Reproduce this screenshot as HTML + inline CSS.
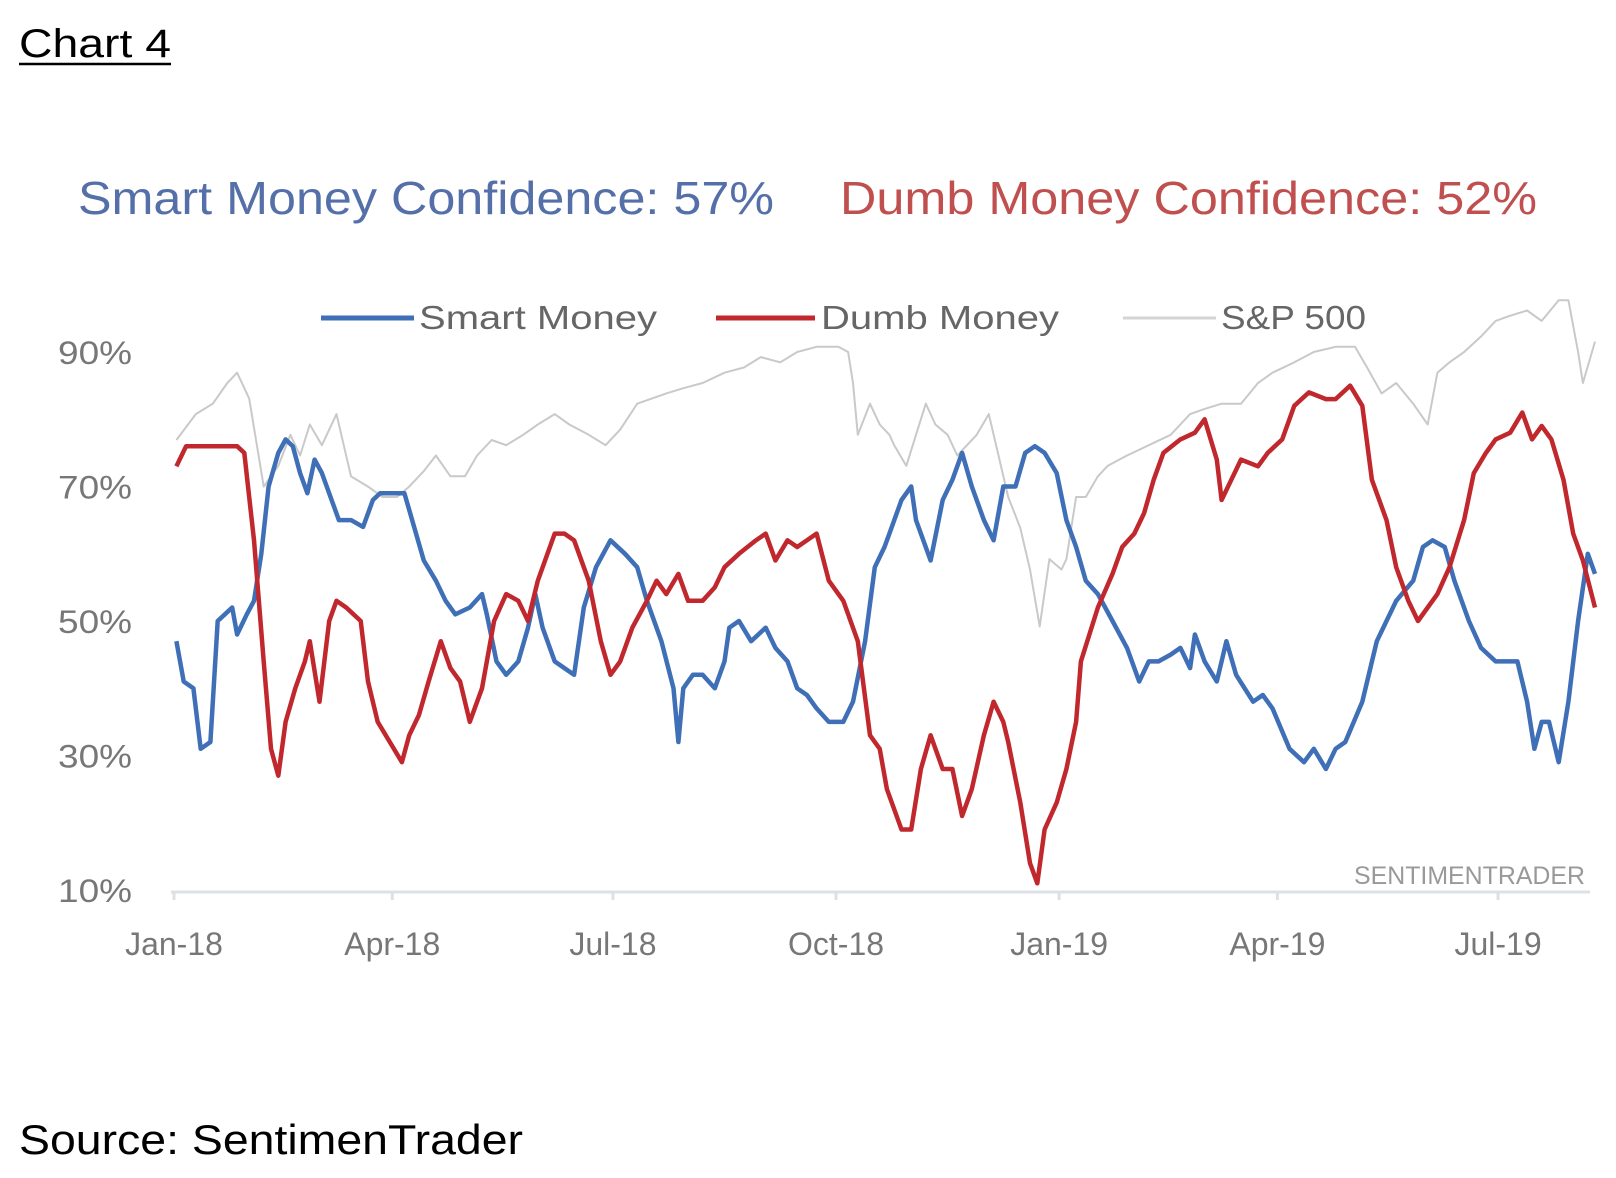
<!DOCTYPE html>
<html><head><meta charset="utf-8"><style>
html,body{margin:0;padding:0;background:#fff;}
svg{display:block;}
text{font-family:"Liberation Sans",sans-serif;}
</style></head><body>
<svg id="chart" width="1616" height="1178" viewBox="0 0 1616 1178">
  <text x="19" y="57" font-size="40" fill="#000" textLength="152" lengthAdjust="spacingAndGlyphs">Chart 4</text>
  <line x1="19" y1="64" x2="171" y2="64" stroke="#000" stroke-width="2.5"/>
  <text x="78" y="214" font-size="46" fill="#5570a9" textLength="696" lengthAdjust="spacingAndGlyphs">Smart Money Confidence: 57%</text>
  <text x="840" y="214" font-size="46" fill="#c0504f" textLength="697" lengthAdjust="spacingAndGlyphs">Dumb Money Confidence: 52%</text>
  <g>
    <line x1="321" y1="318" x2="414" y2="318" stroke="#3f6fb6" stroke-width="5"/>
    <text x="419" y="329" font-size="33" fill="#666" textLength="238" lengthAdjust="spacingAndGlyphs">Smart Money</text>
    <line x1="716" y1="318" x2="815" y2="318" stroke="#c0282d" stroke-width="5"/>
    <text x="821" y="329" font-size="33" fill="#666" textLength="238" lengthAdjust="spacingAndGlyphs">Dumb Money</text>
    <line x1="1123" y1="318" x2="1216" y2="318" stroke="#d4d4d4" stroke-width="3"/>
    <text x="1221" y="329" font-size="33" fill="#666" textLength="145" lengthAdjust="spacingAndGlyphs">S&amp;P 500</text>
  </g>
  <g id="yaxis"></g>
  <g id="xaxis"></g>
  <g id="series"></g>
  <text x="1585" y="884" font-size="25" fill="#999" text-anchor="end" textLength="231" lengthAdjust="spacingAndGlyphs">SENTIMENTRADER</text>
  <text x="19" y="1154" font-size="42" fill="#000" textLength="504" lengthAdjust="spacingAndGlyphs">Source: SentimenTrader</text>
</svg>
<script>
// days since 2018-01-01
const smartDays = [1,4,8,11,15,18,21,24,26,30,33,36,39,43,46,49,52,55,58,61,65,68,73,78,82,85,90,95,99,103,108,112,116,122,127,129,133,137,142,146,149,152,157,161,165,169,174,180,186,191,195,201,206,208,210,214,218,223,227,229,233,238,244,248,253,257,261,265,270,276,280,285,289,293,295,300,304,306,308,312,317,321,325,329,334,338,342,347,351,355,359,364,368,372,376,381,387,393,398,402,406,411,415,419,421,425,430,434,438,445,449,453,460,466,470,475,479,483,490,496,500,504,511,515,519,524,528,534,539,545,554,558,561,564,567,571,575,579,583,586];
const smartValues = [47,41,40,31,32,50,51,52,48,51,53,60,70,75,77,76,72,69,74,72,68,65,65,64,68,69,69,69,64,59,56,53,51,52,54,51,44,42,44,49,54,49,44,43,42,52,58,62,60,58,53,47,40,32,40,42,42,40,44,49,50,47,49,46,44,40,39,37,35,35,38,47,58,61,63,68,70,65,63,59,68,71,75,70,65,62,70,70,75,76,75,72,65,61,56,54,50,46,41,44,44,45,46,43,48,44,41,47,42,38,39,37,31,29,31,28,31,32,38,47,50,53,56,61,62,61,56,50,46,44,44,38,31,35,35,29,38,50,60,57];
const dumbDays = [1,5,9,14,18,22,26,29,33,37,40,43,46,50,54,56,60,64,67,71,77,80,84,89,94,97,101,105,110,114,118,122,127,132,137,142,146,150,157,161,165,171,176,180,184,189,195,199,203,208,212,218,223,227,233,240,244,248,253,257,261,265,270,276,282,287,291,294,300,304,308,312,317,321,325,329,334,338,342,344,349,353,356,359,364,368,372,374,381,387,391,396,400,404,408,415,421,425,430,432,436,440,447,451,457,462,468,475,479,485,490,494,500,504,509,513,517,521,526,532,536,541,545,551,556,560,564,568,573,577,581,586];
const dumbValues = [73,76,76,76,76,76,76,75,62,44,31,27,35,40,44,47,38,50,53,52,50,41,35,32,29,33,36,41,47,43,41,35,40,50,54,53,50,56,63,63,62,56,47,42,44,49,53,56,54,57,53,53,55,58,60,62,63,59,62,61,62,63,56,53,47,33,31,25,19,19,28,33,28,28,21,25,33,38,35,32,23,14,11,19,23,28,35,44,52,57,61,63,66,71,75,77,78,80,74,68,71,74,73,75,77,82,84,83,83,85,82,71,65,58,53,50,52,54,58,65,72,75,77,78,81,77,79,77,71,63,59,52];
const spxDays = [1,9,16,22,26,31,37,43,48,52,56,61,67,73,80,86,92,97,103,108,114,120,125,131,137,144,150,157,163,171,178,184,191,197,203,210,218,227,235,242,250,257,265,274,278,280,282,287,291,295,297,302,306,310,314,319,323,327,331,336,340,344,349,353,357,361,366,368,372,376,381,385,393,402,411,419,425,432,440,447,453,462,470,479,487,492,498,504,511,517,521,526,532,539,545,551,558,564,571,575,579,581,586];
const spxValues = [2700,2760,2784,2832,2856,2796,2592,2640,2712,2664,2736,2688,2760,2616,2592,2568,2568,2592,2628,2664,2616,2616,2664,2700,2688,2712,2736,2760,2736,2712,2688,2724,2784,2796,2808,2820,2832,2856,2868,2892,2880,2904,2916,2916,2904,2832,2712,2784,2736,2712,2688,2640,2712,2784,2736,2712,2664,2688,2712,2760,2664,2568,2496,2400,2268,2424,2400,2424,2568,2568,2616,2640,2664,2688,2712,2760,2772,2784,2784,2832,2856,2880,2904,2916,2916,2868,2808,2832,2784,2736,2856,2880,2904,2940,2976,2988,3000,2976,3024,3024,2904,2832,2928];
const yTicks = [10,30,50,70,90];
const yTickLabels = ["10%","30%","50%","70%","90%"];
const xTickDays = [0,90,181,273,365,455,546];
const xTickLabels = ["Jan-18","Apr-18","Jul-18","Oct-18","Jan-19","Apr-19","Jul-19"];

const NS = "http://www.w3.org/2000/svg";
function xs(d){ return 174 + d * 2.425; }
function ys(v){ return 890 - (v - 10) * (538 / 80); }
function ysSpx(p){ return 440 - (p - 2700) * 0.4316; }

const yAxis = document.getElementById('yaxis');
yTicks.forEach((t, i) => {
  const tx = document.createElementNS(NS, 'text');
  tx.setAttribute('x', 132); tx.setAttribute('y', ys(t) + 12);
  tx.setAttribute('text-anchor', 'end'); tx.setAttribute('font-size', '32');
  tx.setAttribute('fill', '#777');
  tx.setAttribute('textLength', '74'); tx.setAttribute('lengthAdjust', 'spacingAndGlyphs');
  tx.textContent = yTickLabels[i];
  
  
  yAxis.appendChild(tx);
});

const xAxis = document.getElementById('xaxis');
const axisLine = document.createElementNS(NS, 'line');
axisLine.setAttribute('x1', 171); axisLine.setAttribute('x2', 1590);
axisLine.setAttribute('y1', 892); axisLine.setAttribute('y2', 892);
axisLine.setAttribute('stroke', '#dde0e6'); axisLine.setAttribute('stroke-width', '3');


xAxis.appendChild(axisLine);
xTickDays.forEach((d, i) => {
  const tk = document.createElementNS(NS, 'line');
  tk.setAttribute('x1', xs(d)); tk.setAttribute('x2', xs(d));
  tk.setAttribute('y1', 892); tk.setAttribute('y2', 900);
  tk.setAttribute('stroke', '#dde0e6'); tk.setAttribute('stroke-width', '3');
  
  
  xAxis.appendChild(tk);
  const tx = document.createElementNS(NS, 'text');
  tx.setAttribute('x', xs(d)); tx.setAttribute('y', 955);
  tx.setAttribute('text-anchor', 'middle'); tx.setAttribute('font-size', '32');
  tx.setAttribute('fill', '#777');
  tx.textContent = xTickLabels[i];
  
  
  xAxis.appendChild(tx);
});

const series = document.getElementById('series');
function drawLine(days, vals, yfn, color, w, name){
  const pts = days.map((d, i) => xs(d).toFixed(1) + ',' + yfn(vals[i]).toFixed(1)).join(' ');
  const pl = document.createElementNS(NS, 'polyline');
  pl.setAttribute('points', pts);
  pl.setAttribute('fill', 'none');
  pl.setAttribute('stroke', color);
  pl.setAttribute('stroke-width', w);
  pl.setAttribute('stroke-linejoin', 'round');
  
  
  series.appendChild(pl);
}
drawLine(spxDays, spxValues, ysSpx, '#c9c9c9', 2, 'sp500-line');
drawLine(smartDays, smartValues, ys, '#3f6fb6', 4.5, 'smart-money-line');
drawLine(dumbDays, dumbValues, ys, '#c0282d', 4.5, 'dumb-money-line');
</script>
</body></html>
